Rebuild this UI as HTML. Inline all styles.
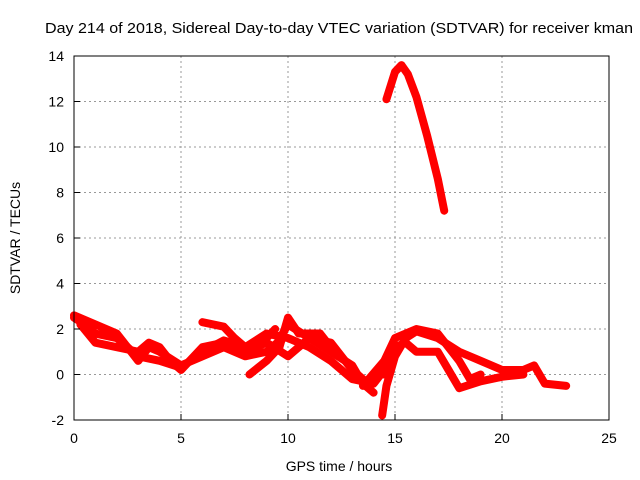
<!DOCTYPE html>
<html><head><meta charset="utf-8"><style>
body{margin:0;background:#fff;}
svg{display:block;font-family:"Liberation Sans",sans-serif;}
</style></head><body>
<svg id="chart" width="640" height="480" xmlns="http://www.w3.org/2000/svg">
<text x="339" y="33" font-size="15" text-anchor="middle" textLength="588" lengthAdjust="spacingAndGlyphs">Day 214 of 2018, Sidereal Day-to-day VTEC variation (SDTVAR) for receiver kman</text>
<text x="339" y="471" font-size="14" text-anchor="middle">GPS time / hours</text>
<text x="20" y="238" font-size="14" text-anchor="middle" transform="rotate(-90 20 238)">SDTVAR / TECUs</text>
<g id="grid"></g><g id="series"></g><g id="axes"></g>
</svg>
<script>
const xTicks=[0,5,10,15,20,25];
const yTicks=[-2,0,2,4,6,8,10,12,14];
const trackA=[[0,2.5],[0.5,2.2],[1,1.8],[2,1.6],[3,0.8],[4,0.6],[5,0.3],[6,1.0],[7,1.5],[8,1.2],[9,1.8],[10,1.6],[11,1.2],[12,0.6],[13,-0.2],[14,-0.4],[14.5,0.2]];
const trackB=[[0,2.6],[1,2.2],[2,1.8],[2.5,1.2],[3,0.6],[3.5,1.2],[4,1.0],[5,0.4],[6,0.8],[7,1.2],[8,0.8],[9,1.0],[9.5,1.4],[10,2.2],[11,1.6],[12,1.0],[13,0.4],[13.5,-0.4],[14,-0.8]];
const trackC=[[0.3,2.2],[1,1.4],[2,1.2],[3,1.0],[3.5,1.4],[4,1.2],[4.5,0.6],[5,0.2],[6,1.2],[7,1.4],[8,1.0],[9,1.4],[10,0.8],[11,1.6],[12,1.4],[13,0.2],[13.5,-0.2]];
const trackD=[[6,2.3],[7,2.1],[7.5,1.6],[8,1.2],[8.6,1.4],[9,1.6],[9.4,2.0]];
const trackE=[[8.2,0],[9,0.6],[9.6,1.2],[10,2.5],[10.5,1.8],[11.5,1.8],[12,1.2]];
const trackF=[[14.4,-1.8],[14.6,-0.5],[15,0.8],[15.5,1.6],[16,1.9],[17,1.6],[18,1.0],[19,0.6],[20,0.2],[21,0.2],[21.5,0.4],[22,-0.4],[23,-0.5]];
const trackG=[[14.5,0],[15,1.2],[15.5,1.4],[16,1.0],[17,1.0],[17.5,0.2],[18,-0.6],[19,-0.3],[20,-0.1],[21,0]];
const trackH=[[13.5,-0.5],[14.5,0.6],[15,1.6],[16,2.0],[17,1.8],[18,0.6],[18.5,-0.2],[19,0]];
const trackArc=[[14.6,12.1],[15,13.3],[15.3,13.6],[15.6,13.2],[16,12.2],[16.5,10.5],[17,8.6],[17.3,7.2]];
const tracks=[trackA,trackB,trackC,trackD,trackE,trackF,trackG,trackH,trackArc];
const X0=74,X1=609,Y0=420,Y1=56;
const xs=v=>X0+(v-0)/25*(X1-X0);
const ys=v=>Y0-(v+2)/16*(Y0-Y1);
const NS="http://www.w3.org/2000/svg";
const grid=document.getElementById('grid'),axes=document.getElementById('axes'),ser=document.getElementById('series');
function mk(tag,attrs,parent){const e=document.createElementNS(NS,tag);for(const k in attrs)e.setAttribute(k,attrs[k]);parent.appendChild(e);return e;}
xTicks.forEach(t=>{
  if(t>0&&t<25){const l=mk('line',{x1:xs(t),x2:xs(t),y1:Y1,y2:Y0,stroke:'#999','stroke-dasharray':'2,3'},grid);
  
  }
  const tx=mk('text',{x:xs(t),y:Y0+23,'font-size':14,'text-anchor':'middle'},axes);tx.textContent=t;
  
  
  mk('line',{x1:xs(t),x2:xs(t),y1:Y0,y2:Y0-6,stroke:'#000'},axes);
});
yTicks.forEach(t=>{
  if(t>-2&&t<14){const l=mk('line',{x1:X0,x2:X1,y1:ys(t),y2:ys(t),stroke:'#999','stroke-dasharray':'2,3'},grid);
  
  }
  const tx=mk('text',{x:X0-10,y:ys(t)+5,'font-size':14,'text-anchor':'end'},axes);tx.textContent=t;
  
  
  mk('line',{x1:X0,x2:X0+6,y1:ys(t),y2:ys(t),stroke:'#000'},axes);
});
const fr=mk('rect',{x:X0,y:Y1,width:X1-X0,height:Y0-Y1,fill:'none',stroke:'#000'},axes);


tracks.forEach((tr,i)=>{
  const p=mk('polyline',{points:tr.map(d=>xs(d[0])+','+ys(d[1])).join(' '),fill:'none',stroke:'#f00','stroke-width':8,'stroke-linejoin':'round','stroke-linecap':'round'},ser);
  
  
});
</script>
</body></html>
